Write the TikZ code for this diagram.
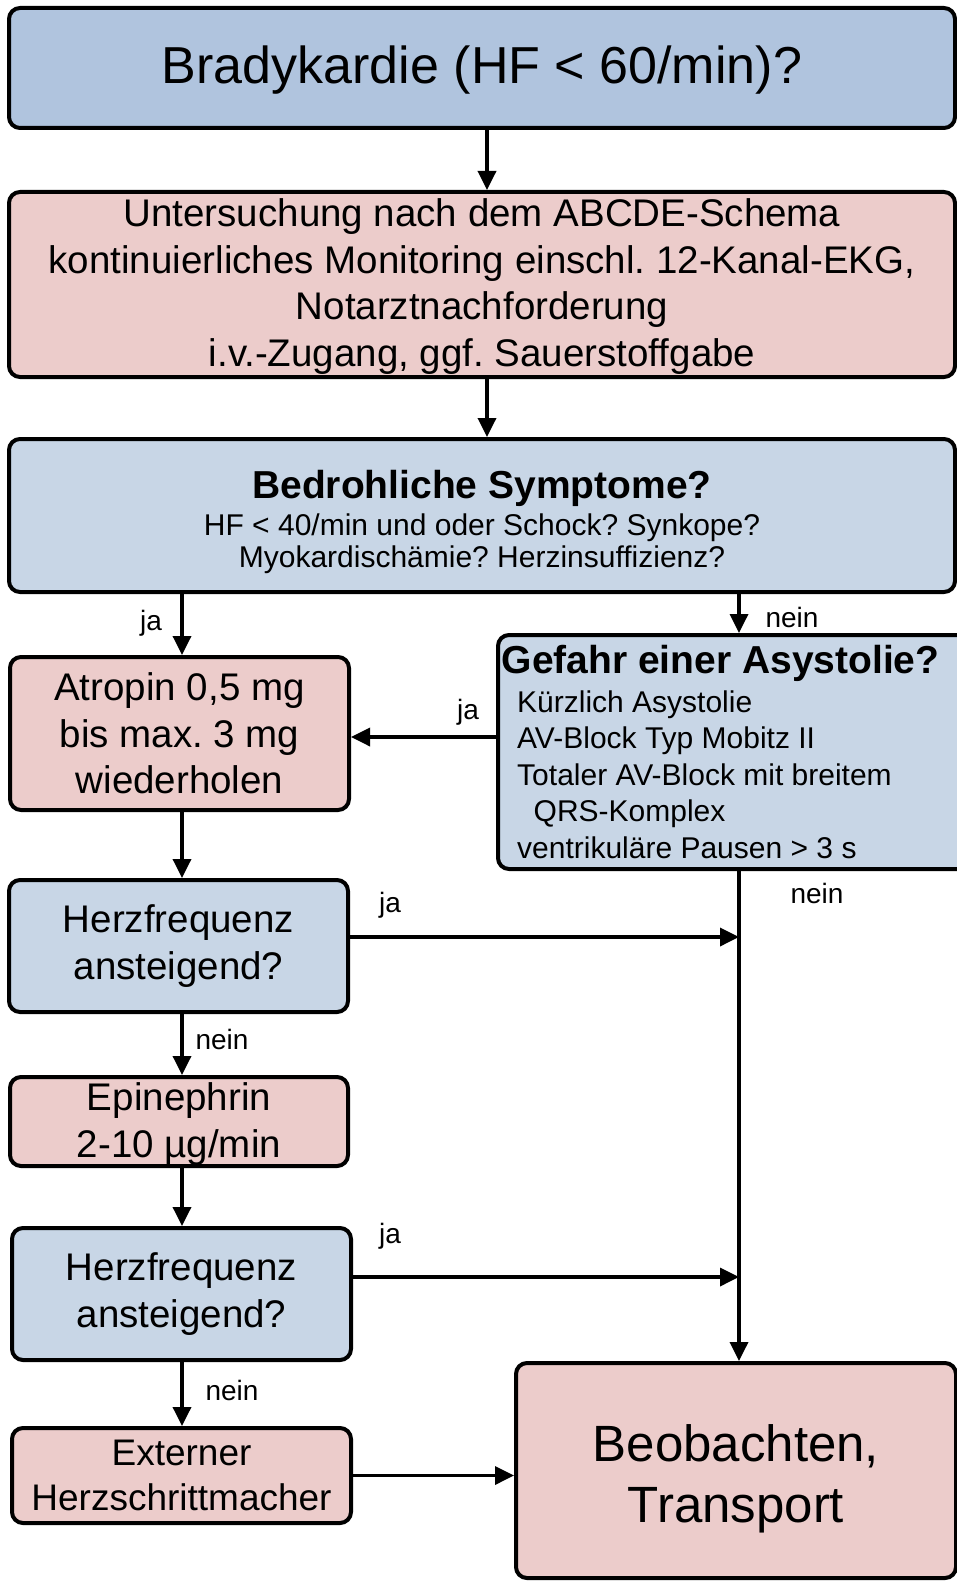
\documentclass[tikz,border=0pt]{standalone}
\usepackage{fontspec}
\setmainfont{Liberation Sans}
\frenchspacing
\usetikzlibrary{arrows.meta,calc}
\definecolor{topblue}{HTML}{B0C4DE}
\definecolor{boxblue}{HTML}{C8D6E6}
\definecolor{boxpink}{HTML}{ECCCCB}
\begin{document}
\frenchspacing
\begin{tikzpicture}[x=1pt,y=-1pt,
  box/.style={draw=black, line width=4pt, rounded corners=11pt, align=center, inner sep=0pt},
  bluebox/.style={box, fill=boxblue},
  pinkbox/.style={box, fill=boxpink},
  midfont/.style={font=\fontsize{38.5}{46.5}\selectfont},
  conn/.style={line width=3.5pt, -{Triangle[length=19pt,width=18pt]}},
  lbl/.style={font=\fontsize{28}{30}\selectfont, inner sep=0pt},
]
\useasboundingbox (0,0) rectangle (957,1581);

\node[box, fill=topblue, minimum width=946pt, minimum height=120pt,
      font=\fontsize{52}{60}\selectfont] (b1) at (482,68) {\rule{0pt}{42pt}Bradykardie (HF < 60/min)?};

\node[pinkbox, midfont, minimum width=946pt, minimum height=185pt] (b2) at (482,284.5)
  {\rule{0pt}{32pt}Untersuchung nach dem ABCDE-Schema\\kontinuierliches Monitoring einschl. 12-Kanal-EKG,\\Notarztnachforderung\\i.v.-Zugang, ggf. Sauerstoffgabe};

\node[bluebox, minimum width=946pt, minimum height=153pt, font=\fontsize{30}{32}\selectfont] (b3) at (482,515.5)
  {\rule{0pt}{41pt}{\bfseries\fontsize{39}{40}\selectfont Bedrohliche Symptome?}\\[5pt]HF < 40/min und oder Schock? Synkope?\\Myokardischämie? Herzinsuffizienz?};

\node[pinkbox, midfont, minimum width=339pt, minimum height=153pt] (atro) at (179.5,733.5)
  {Atropin 0,5 mg\\bis max. 3 mg\\wiederholen};

\node[bluebox, minimum width=482pt, minimum height=234pt] (gef) at (739,752) {};
\node[anchor=north west, align=left, inner sep=0pt, font=\fontsize{30}{36.5}\selectfont] (geftext) at (501.5,645.5)
  {{\bfseries\fontsize{39}{40}\selectfont Gefahr einer Asystolie?}\\[2pt]
   \hspace*{15.5pt}Kürzlich Asystolie\\
   \hspace*{15.5pt}AV-Block Typ Mobitz II\\
   \hspace*{15.5pt}Totaler AV-Block mit breitem\\
   \hspace*{32pt}QRS-Komplex\\
   \hspace*{15.5pt}ventrikuläre Pausen > 3 s};

\node[bluebox, midfont, minimum width=339pt, minimum height=132pt] (hf1) at (178.5,946)
  {Herzfrequenz\\ansteigend?};
\node[pinkbox, midfont, minimum width=338pt, minimum height=89pt] (epi) at (179,1121.5)
  {\rule{0pt}{33pt}Epinephrin\\2-10 µg/min};
\node[bluebox, midfont, minimum width=339pt, minimum height=132pt] (hf2) at (181.5,1294)
  {Herzfrequenz\\ansteigend?};
\node[pinkbox, minimum width=339pt, minimum height=95pt, font=\fontsize{37}{45}\selectfont] (ext) at (181.5,1475.5)
  {Externer\\Herzschrittmacher};
\node[pinkbox, minimum width=440pt, minimum height=215pt, font=\fontsize{51}{61}\selectfont] (beo) at (736,1470.5)
  {\rule{0pt}{53pt}Beobachten,\\Transport};

% helper coordinates
\coordinate (mx) at (487,0);
\coordinate (lx) at (182,0);
\coordinate (ga) at (0,737);
\coordinate (j1) at (739,937);
\coordinate (j2) at (739,1277);

\draw[conn] (b1.south -| mx) -- (b2.north -| mx);
\draw[conn] (b2.south -| mx) -- (b3.north -| mx);
\draw[conn] (b3.south -| lx) -- (atro.north -| lx);
\draw[conn] (b3.south -| gef.north) -- (gef.north);
\draw[conn] (gef.west |- ga) -- (atro.east |- ga);
\draw[conn] (atro.south -| lx) -- (hf1.north -| lx);
\draw[conn] (hf1.south -| lx) -- (epi.north -| lx);
\draw[conn] (epi.south -| lx) -- (hf2.north -| lx);
\draw[conn] (hf2.south -| lx) -- (ext.north -| lx);
\draw[conn] (gef.south) -- (beo.north -| gef.south);
\draw[conn] (hf1.east |- j1) -- (j1);
\draw[conn] (hf2.east |- j2) -- (j2);
\draw[conn] (ext.east) -- (ext.east -| beo.west);

\node[lbl] (l1) at (151,623) {ja};
\node[lbl] (l2) at (792,617) {nein};
\node[lbl] (l3) at (468,712) {ja};
\node[lbl] (l4) at (817,893) {nein};
\node[lbl] (l5) at (390,905) {ja};
\node[lbl] (l6) at (222,1039) {nein};
\node[lbl] (l7) at (390,1236) {ja};
\node[lbl] (l8) at (232,1390) {nein};
\end{tikzpicture}
\end{document}
